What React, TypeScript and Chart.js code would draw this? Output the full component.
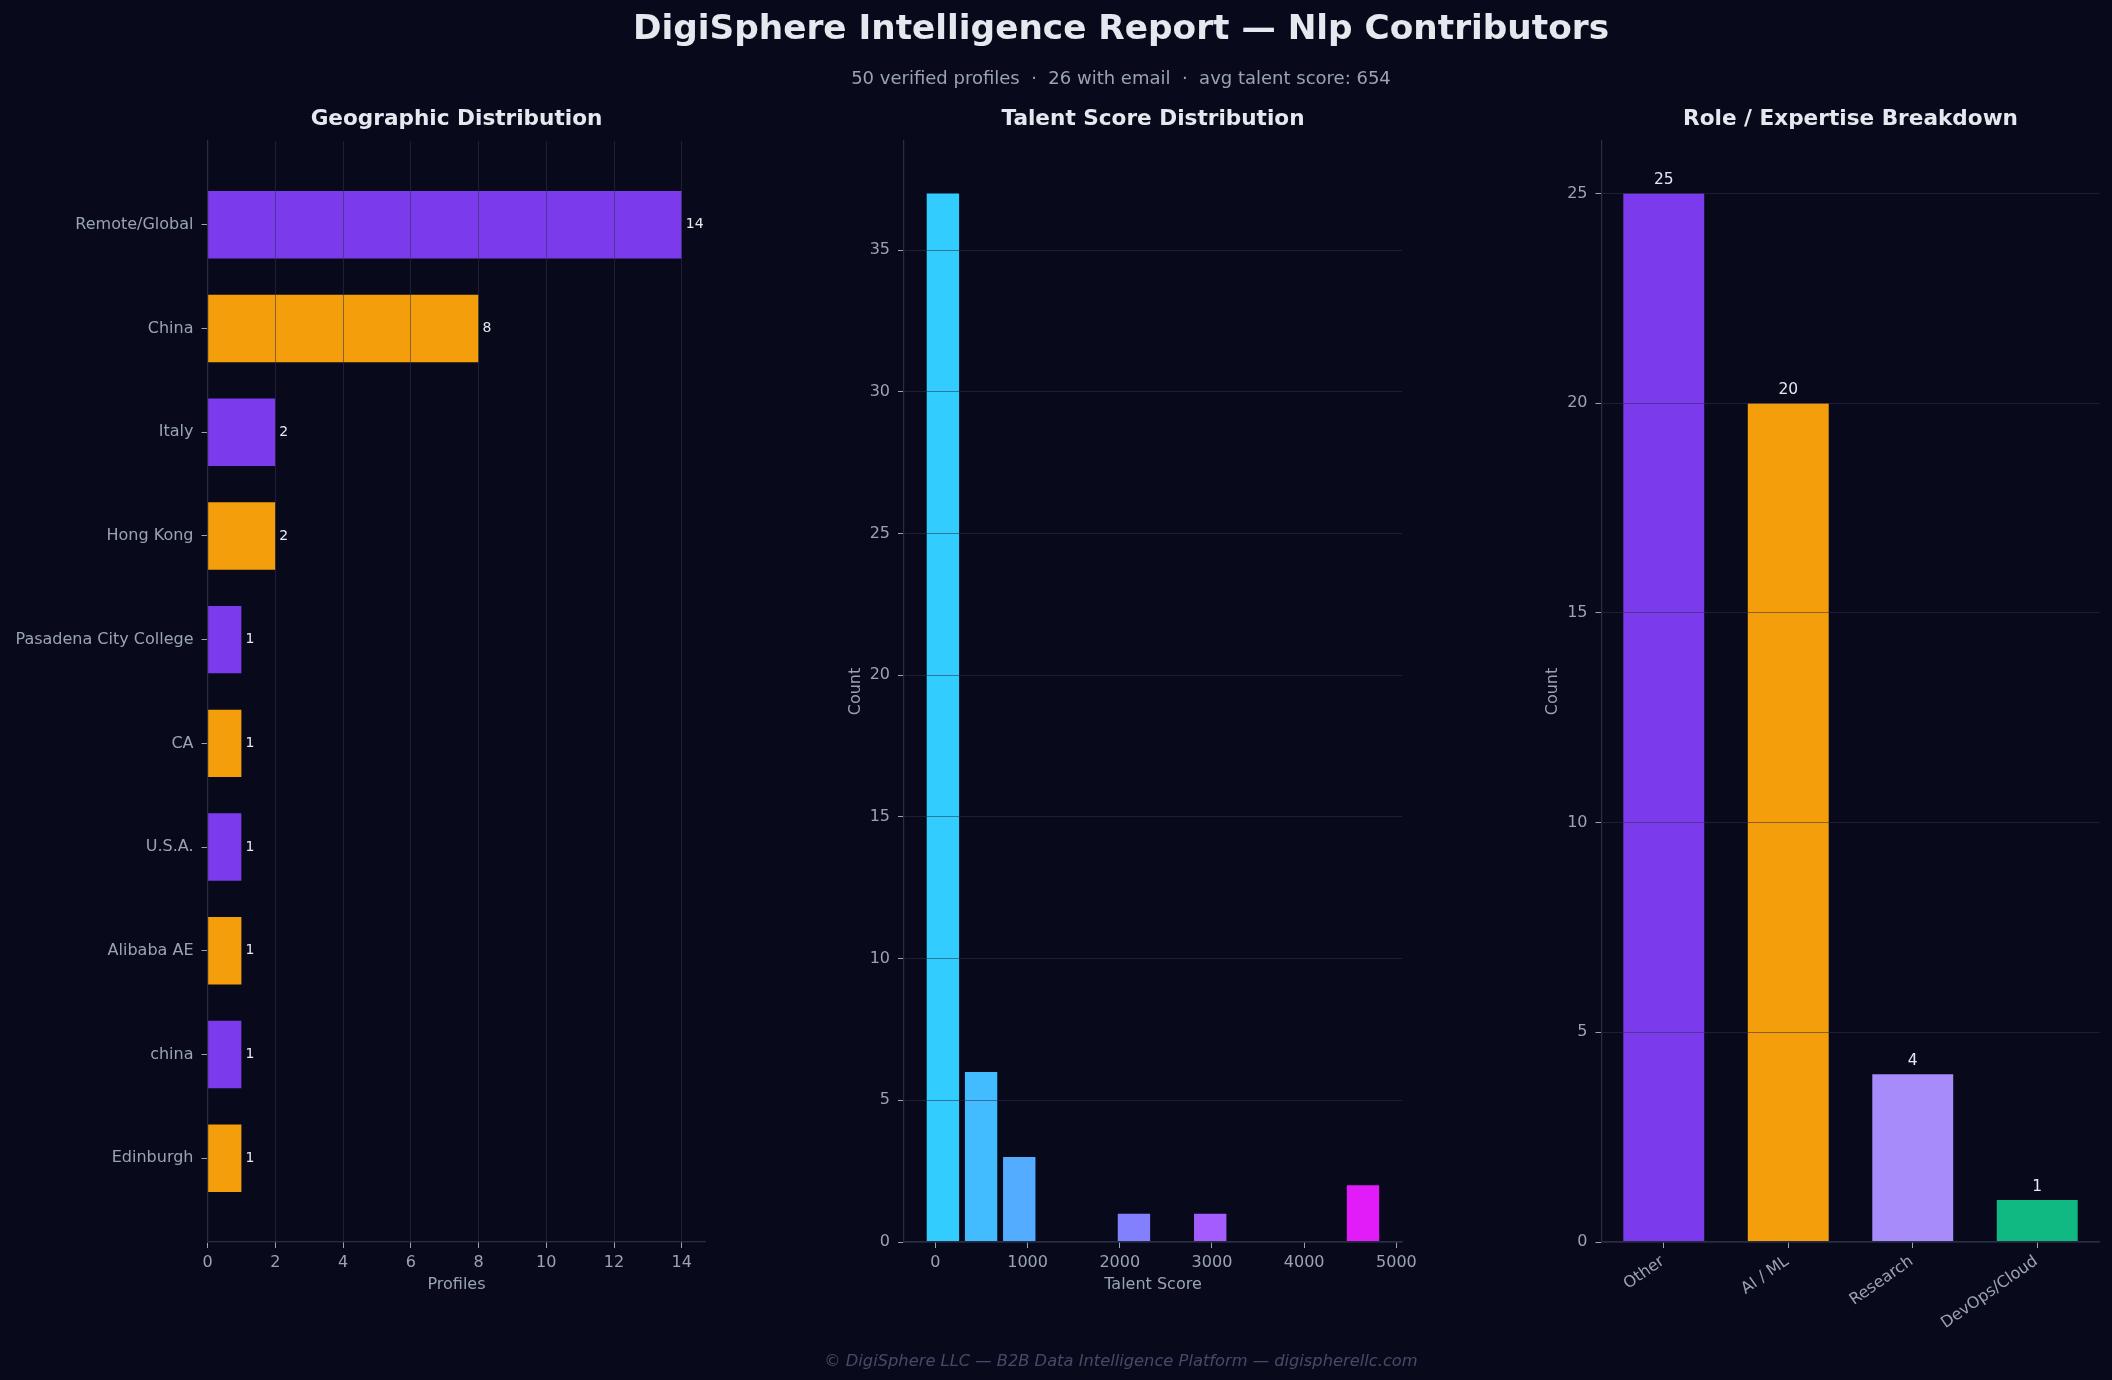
import React, { useEffect, useRef } from "react";
import { Chart, registerables } from "chart.js";

Chart.register(...registerables);

// ---------------- data ----------------
const geoLabels = [
  "Remote/Global",
  "China",
  "Italy",
  "Hong Kong",
  "Pasadena City College",
  "CA",
  "U.S.A.",
  "Alibaba AE",
  "china",
  "Edinburgh",
];
const geoCounts = [14, 8, 2, 2, 1, 1, 1, 1, 1, 1];
const geoTicks = [0, 2, 4, 6, 8, 10, 12, 14];

const scoreBinCenters = [82, 496, 910, 1324, 1739, 2154, 2568, 2981, 3396, 3811, 4225, 4638];
const scoreBinCounts = [37, 6, 3, 0, 0, 1, 0, 1, 0, 0, 0, 2];
const scoreTicks = [0, 1000, 2000, 3000, 4000, 5000];
const scoreCountTicks = [0, 5, 10, 15, 20, 25, 30, 35];

const roleLabels = ["Other", "AI / ML", "Research", "DevOps/Cloud"];
const roleCounts = [25, 20, 4, 1];
const roleTicks = [0, 5, 10, 15, 20, 25];

const titleText = "DigiSphere Intelligence Report \u2014 Nlp Contributors";
const subtitleText = "50 verified profiles  \u00b7  26 with email  \u00b7  avg talent score: 654";
const footerText = "\u00a9 DigiSphere LLC \u2014 B2B Data Intelligence Platform \u2014 digispherellc.com";
const panelTitles = ["Geographic Distribution", "Talent Score Distribution", "Role / Expertise Breakdown"];

// ---------------- style ----------------
const W = 2112;
const H = 1380;
const BG = "#080a1c";
const GRID = "rgba(46,50,74,0.55)";
const SPINE = "#2a2e44";
const MUTED = "#9aa3b5";
const WHITE = "#e6e8ef";
const FOOT = "#464a68";
const FONT = '"DejaVu Sans", sans-serif';

const PURPLE = "#7c3aed";
const ORANGE = "#f59e0b";
const geoColors = geoCounts.map((_, i) => (i % 2 === 0 ? PURPLE : ORANGE));
const histColors = [
  "#33ccff", "#43bcff", "#53acff", "#6396ff", "#7388ff", "#8380fe",
  "#936cfd", "#a35cfd", "#b34cfc", "#c33cfb", "#d32cfa", "#e21cf8",
];
const roleColors = [PURPLE, ORANGE, "#a78bfa", "#10b981"];

const AREA_TOP = 141;
const AREA_BOTTOM = 1242;
const XAXIS_H = 52.6;
const PAD_BOTTOM = H - (AREA_BOTTOM + XAXIS_H);
const TICK_LEN = 6;

Chart.defaults.font.family = FONT;
Chart.defaults.color = MUTED;

const fixTicks = (values: number[]) => (scale: any) => {
  scale.ticks = values.map((v) => ({ value: v }));
};
const fixWidth = (w: number) => (scale: any) => {
  scale.width = w;
};
const fixHeight = (h: number) => (scale: any) => {
  scale.height = h;
};
const plainNumber = (v: number | string) => String(v);

const tickFont = { size: 16, family: FONT };

function axisGrid(onArea: boolean) {
  return {
    display: true,
    drawOnChartArea: onArea,
    drawTicks: true,
    color: GRID,
    lineWidth: 1,
    tickLength: TICK_LEN,
    tickColor: MUTED,
    tickWidth: 1,
    offset: false,
    z: 1,
  };
}

const border = { display: true, color: SPINE, width: 1.2, z: 2 };

const geoValuePlugin = {
  id: "geoValues",
  afterDraw(chart: any) {
    const ctx = chart.ctx;
    const meta = chart.getDatasetMeta(0);
    ctx.save();
    ctx.font = `14px ${FONT}`;
    ctx.fillStyle = WHITE;
    ctx.textAlign = "left";
    ctx.textBaseline = "middle";
    meta.data.forEach((bar: any, i: number) => {
      ctx.fillText(String(geoCounts[i]), bar.x + 4, bar.y);
    });
    ctx.restore();
  },
};

const roleValuePlugin = {
  id: "roleValues",
  afterDraw(chart: any) {
    const ctx = chart.ctx;
    const meta = chart.getDatasetMeta(0);
    ctx.save();
    ctx.font = `15.5px ${FONT}`;
    ctx.fillStyle = WHITE;
    ctx.textAlign = "center";
    ctx.textBaseline = "alphabetic";
    meta.data.forEach((bar: any, i: number) => {
      ctx.fillText(String(roleCounts[i]), bar.x, bar.y - 9);
    });
    ctx.restore();
  },
};

function makeGeo(): any {
  const left = 207.5;
  const right = 705.5;
  return {
    type: "bar",
    data: {
      datasets: [
        {
          data: geoCounts.map((v, i) => ({ x: v, y: i })),
          backgroundColor: geoColors,
          borderWidth: 0,
          barPercentage: 0.65,
          categoryPercentage: 1,
        },
      ],
    },
    options: {
      indexAxis: "y",
      responsive: false,
      animation: false,
      devicePixelRatio: 1,
      events: [],
      layout: { padding: { left: 0, top: AREA_TOP, right: W - right, bottom: PAD_BOTTOM } },
      plugins: { legend: { display: false }, tooltip: { enabled: false } },
      scales: {
        x: {
          type: "linear",
          position: "bottom",
          min: 0,
          max: 14.7,
          offset: false,
          afterBuildTicks: fixTicks(geoTicks),
          afterFit: fixHeight(XAXIS_H),
          grid: axisGrid(true),
          border,
          ticks: { color: MUTED, font: tickFont, padding: 5, maxRotation: 0, callback: plainNumber },
          title: { display: true, text: "Profiles", color: MUTED, font: tickFont, padding: 0 },
        },
        y: {
          type: "linear",
          position: "left",
          reverse: true,
          min: -0.8075,
          max: 9.8075,
          offset: false,
          afterBuildTicks: fixTicks(geoLabels.map((_, i) => i)),
          afterFit: fixWidth(left),
          grid: axisGrid(false),
          border,
          ticks: {
            color: MUTED,
            font: tickFont,
            padding: 8,
            callback: (v: number) => geoLabels[v] ?? "",
          },
        },
      },
    },
    plugins: [geoValuePlugin],
  };
}

function makeScores(): any {
  const scaleLeft = 845.9;
  const left = 904;
  const right = 1402;
  return {
    type: "bar",
    data: {
      datasets: [
        {
          data: scoreBinCenters.map((c, i) => ({ x: c, y: scoreBinCounts[i] })),
          backgroundColor: histColors,
          borderWidth: 0,
          barPercentage: 0.85,
          categoryPercentage: 1,
        },
      ],
    },
    options: {
      responsive: false,
      animation: false,
      devicePixelRatio: 1,
      events: [],
      layout: { padding: { left: scaleLeft, top: AREA_TOP, right: W - right, bottom: PAD_BOTTOM } },
      plugins: { legend: { display: false }, tooltip: { enabled: false } },
      scales: {
        x: {
          type: "linear",
          position: "bottom",
          min: -340,
          max: 5061,
          offset: false,
          afterBuildTicks: fixTicks(scoreTicks),
          afterFit: fixHeight(XAXIS_H),
          grid: axisGrid(false),
          border,
          ticks: { color: MUTED, font: tickFont, padding: 5, maxRotation: 0, callback: plainNumber },
          title: { display: true, text: "Talent Score", color: MUTED, font: tickFont, padding: 0 },
        },
        y: {
          type: "linear",
          position: "left",
          min: 0,
          max: 38.85,
          afterBuildTicks: fixTicks(scoreCountTicks),
          afterFit: fixWidth(left - scaleLeft),
          grid: axisGrid(true),
          border,
          ticks: { color: MUTED, font: tickFont, padding: 8, callback: plainNumber },
          title: { display: true, text: "Count", color: MUTED, font: tickFont, padding: 0 },
        },
      },
    },
  };
}

function makeRoles(): any {
  const scaleLeft = 1543.1;
  const left = 1601.5;
  const right = 2099.5;
  const xAxisH = 130;
  return {
    type: "bar",
    data: {
      labels: roleLabels,
      datasets: [
        {
          data: roleCounts,
          backgroundColor: roleColors,
          borderWidth: 0,
          barPercentage: 0.65,
          categoryPercentage: 1,
        },
      ],
    },
    options: {
      responsive: false,
      animation: false,
      devicePixelRatio: 1,
      events: [],
      layout: {
        padding: { left: scaleLeft, top: AREA_TOP, right: W - right, bottom: H - AREA_BOTTOM - xAxisH },
      },
      plugins: { legend: { display: false }, tooltip: { enabled: false } },
      scales: {
        x: {
          type: "category",
          position: "bottom",
          offset: true,
          afterFit: fixHeight(xAxisH),
          grid: axisGrid(false),
          border,
          ticks: {
            color: MUTED,
            font: tickFont,
            padding: 4,
            minRotation: 35,
            maxRotation: 35,
            autoSkip: false,
            labelOffset: -1,
          },
        },
        y: {
          type: "linear",
          position: "left",
          min: 0,
          max: 26.25,
          afterBuildTicks: fixTicks(roleTicks),
          afterFit: fixWidth(left - scaleLeft),
          grid: axisGrid(true),
          border,
          ticks: { color: MUTED, font: tickFont, padding: 8, callback: plainNumber },
          title: { display: true, text: "Count", color: MUTED, font: tickFont, padding: 0 },
        },
      },
    },
    plugins: [roleValuePlugin],
  };
}

function ChartCanvas({ make }: { make: () => any }) {
  const ref = useRef<HTMLCanvasElement>(null);
  useEffect(() => {
    if (!ref.current) return;
    const chart = new Chart(ref.current, make());
    return () => chart.destroy();
  }, [make]);
  return (
    <canvas
      ref={ref}
      width={W}
      height={H}
      style={{ position: "absolute", left: 0, top: 0, width: W, height: H }}
    />
  );
}

function Text({
  text,
  cx,
  baseline,
  size,
  color,
  bold,
  italic,
}: {
  text: string;
  cx: number;
  baseline: number;
  size: number;
  color: string;
  bold?: boolean;
  italic?: boolean;
}) {
  return (
    <div
      style={{
        position: "absolute",
        left: cx - 1500,
        width: 3000,
        top: baseline - 0.846 * size,
        height: size,
        lineHeight: `${size}px`,
        fontSize: size,
        fontFamily: FONT,
        fontWeight: bold ? "bold" : "normal",
        fontStyle: italic ? "italic" : "normal",
        color,
        textAlign: "center",
        whiteSpace: "pre",
      }}
    >
      {text}
    </div>
  );
}

export default function App() {
  const panelCenters = [456.5, 1153, 1850.5];
  return (
    <div
      style={{
        position: "fixed",
        left: 0,
        top: 0,
        width: W,
        height: H,
        background: BG,
        overflow: "hidden",
      }}
    >
      <ChartCanvas make={makeGeo} />
      <ChartCanvas make={makeScores} />
      <ChartCanvas make={makeRoles} />
      <Text text={titleText} cx={1121} baseline={39.5} size={34.3} color={WHITE} bold />
      <Text text={subtitleText} cx={1121} baseline={84} size={18} color={MUTED} />
      {panelTitles.map((t, i) => (
        <Text key={t} text={t} cx={panelCenters[i]} baseline={125.5} size={21.6} color={WHITE} bold />
      ))}
      <Text text={footerText} cx={1121} baseline={1366.5} size={16.3} color={FOOT} italic />
    </div>
  );
}
